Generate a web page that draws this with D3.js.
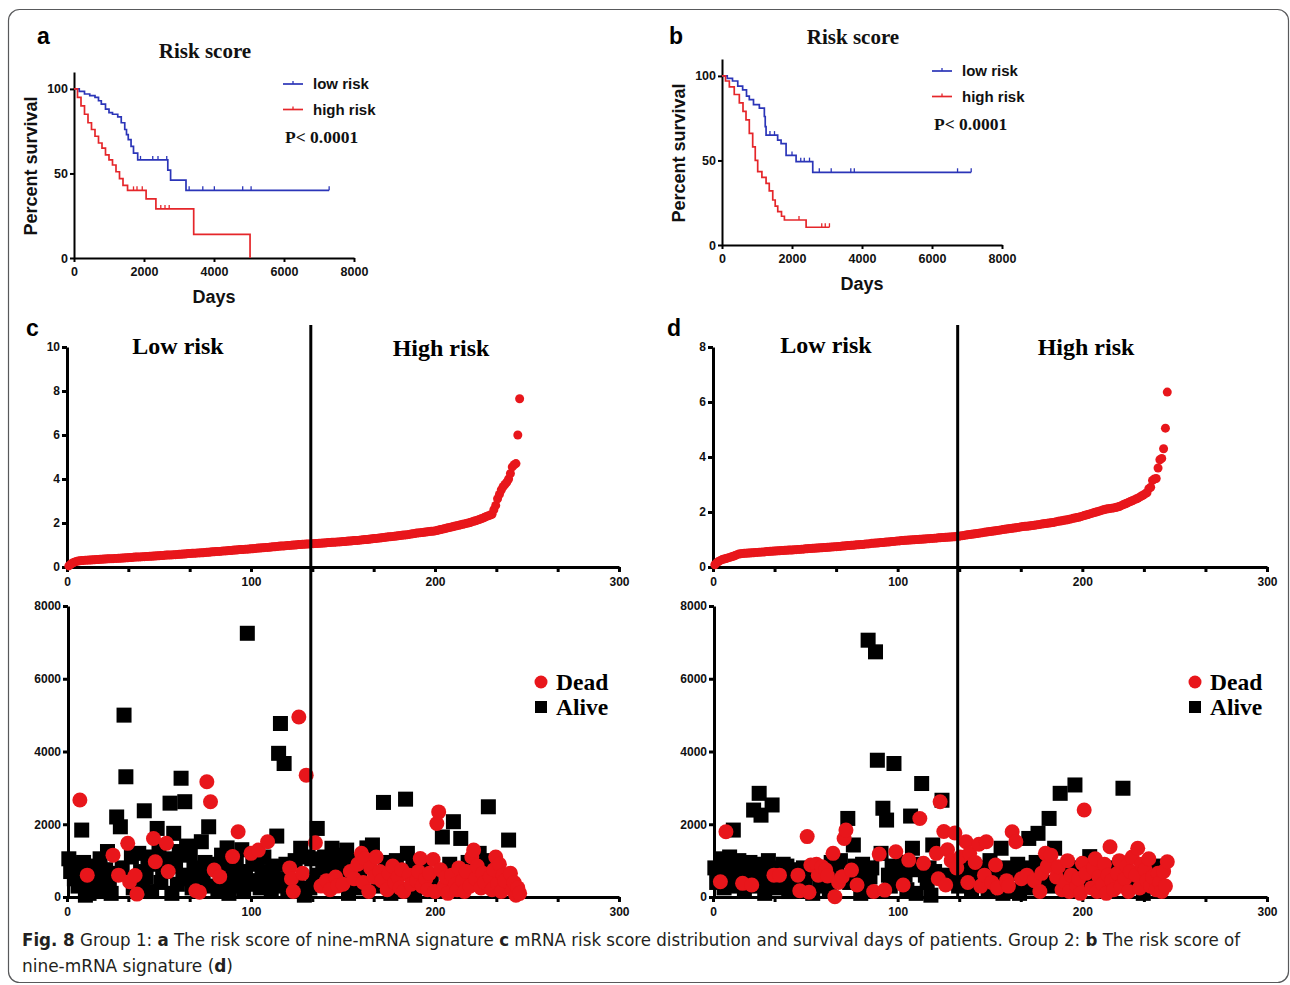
<!DOCTYPE html>
<html>
<head>
<meta charset="utf-8">
<script src="https://cdn.jsdelivr.net/npm/d3@7"></script>
<style>
  body { margin: 0; background: #fff; }
</style>
</head>
<body>
<svg id="fig" width="1290" height="985"></svg>
<script>
// ---------- Kaplan-Meier data (days, percent survival) ----------
const kmDayTicks = [0, 2000, 4000, 6000, 8000];
const kmPctTicks = [0, 50, 100];

const g1LowTimes = [0, 150, 300, 450, 600, 700, 780, 900, 1000, 1100, 1250, 1350, 1450, 1500, 1550, 1630, 1700, 1820, 2680, 2760, 3200];
const g1LowSurv  = [100, 98.5, 97, 96, 95, 93, 91, 88, 86, 85, 83.5, 80, 76, 73, 70, 66, 62, 58, 52, 46, 40];
const g1LowEnd = 7290;
const g1LowCensor = [1900, 2250, 2400, 2650, 3290, 3680, 4010, 4820, 5060, 7290];

const g1HighTimes = [0, 100, 200, 300, 400, 500, 600, 700, 800, 900, 1000, 1100, 1200, 1300, 1400, 1530, 2060, 2340, 3420, 5030];
const g1HighSurv  = [100, 95, 90, 85, 80, 76, 72, 68, 65, 61, 58, 55, 51, 47, 43, 40, 35, 29, 14, 0];
const g1HighEnd = 5030;
const g1HighCensor = [1700, 1800, 1950, 2480, 2600, 2720];

const g2LowTimes = [0, 150, 300, 450, 590, 700, 780, 900, 1067, 1210, 1235, 1259, 1590, 1688, 1831, 2117, 2593];
const g2LowSurv  = [100, 98.5, 97, 94, 91.7, 88, 86, 83, 81, 76, 70, 65, 62, 60, 53, 49.3, 43];
const g2LowEnd = 7120;
const g2LowCensor = [1370, 1500, 2000, 2250, 2350, 2500, 2780, 3120, 3680, 3780, 6730, 7120];

const g2HighTimes = [0, 100, 210, 350, 495, 600, 686, 780, 877, 950, 1020, 1140, 1259, 1350, 1450, 1520, 1593, 1700, 1783, 2403];
const g2HighSurv  = [100, 97, 93.5, 89, 84, 79, 74, 66, 58, 50, 43.4, 40, 36.5, 32, 26.6, 23, 19.7, 17, 14.8, 10.5];
const g2HighEnd = 3070;
const g2HighCensor = [2200, 2850, 2950, 3070];

// ---------- risk score distribution (patients ordered by score) ----------
const cutoffIndex = 132.5;

const riskScoreG1 = [
  0.05,0.12,0.18,0.22,0.25,0.27,0.28,0.29,0.30,0.31,
  0.31,0.32,0.32,0.33,0.33,0.34,0.34,0.35,0.35,0.36,
  0.36,0.37,0.37,0.38,0.38,0.39,0.39,0.40,0.40,0.41,
  0.41,0.42,0.42,0.43,0.43,0.44,0.45,0.45,0.46,0.46,
  0.47,0.47,0.48,0.48,0.49,0.49,0.50,0.50,0.51,0.51,
  0.52,0.52,0.53,0.54,0.54,0.55,0.55,0.56,0.56,0.57,
  0.58,0.58,0.59,0.59,0.60,0.61,0.61,0.62,0.62,0.63,
  0.64,0.64,0.65,0.65,0.66,0.67,0.67,0.68,0.69,0.69,
  0.70,0.71,0.71,0.72,0.73,0.73,0.74,0.75,0.75,0.76,
  0.77,0.77,0.78,0.79,0.79,0.80,0.81,0.81,0.82,0.83,
  0.83,0.84,0.85,0.86,0.86,0.87,0.88,0.89,0.89,0.90,
  0.91,0.92,0.92,0.93,0.94,0.95,0.95,0.96,0.97,0.98,
  0.98,0.99,1.00,1.00,1.01,1.02,1.02,1.03,1.03,1.04,1.04,1.05,
  1.06,1.06,1.07,1.07,1.08,1.08,1.09,1.09,
  1.10,1.11,1.11,1.12,1.12,1.13,1.14,1.14,1.15,1.16,
  1.16,1.17,1.18,1.18,1.19,1.20,1.21,1.21,1.22,1.23,
  1.24,1.25,1.25,1.26,1.27,1.28,1.29,1.30,1.31,1.32,
  1.33,1.34,1.35,1.36,1.37,1.38,1.39,1.40,1.41,1.42,
  1.43,1.44,1.45,1.46,1.47,1.48,1.50,1.51,1.52,1.54,
  1.55,1.56,1.57,1.58,1.59,1.60,1.61,1.62,1.63,1.64,
  1.66,1.68,1.70,1.72,1.74,1.76,1.78,1.80,1.82,1.84,
  1.86,1.88,1.90,1.92,1.94,1.96,1.98,2.00,2.02,2.05,
  2.08,2.10,2.13,2.16,2.19,2.22,2.26,2.30,2.33,2.36,
  2.40,2.60,2.80,3.10,3.30,3.50,3.65,3.75,3.85,4.00,
  4.25,4.55,4.65,4.70,6.00,7.65
];

const riskScoreG2 = [
  0.08,0.15,0.20,0.24,0.27,0.29,0.31,0.33,0.35,0.37,
  0.39,0.42,0.45,0.47,0.48,0.49,0.50,0.50,0.51,0.51,
  0.52,0.52,0.53,0.53,0.54,0.54,0.55,0.55,0.56,0.56,
  0.57,0.57,0.58,0.58,0.59,0.59,0.60,0.60,0.61,0.61,
  0.62,0.62,0.62,0.63,0.63,0.64,0.64,0.65,0.65,0.66,
  0.66,0.67,0.67,0.68,0.68,0.69,0.69,0.70,0.70,0.71,
  0.71,0.72,0.72,0.73,0.73,0.74,0.74,0.75,0.75,0.76,
  0.76,0.77,0.78,0.78,0.79,0.79,0.80,0.81,0.81,0.82,
  0.82,0.83,0.84,0.84,0.85,0.86,0.86,0.87,0.87,0.88,
  0.89,0.89,0.90,0.91,0.91,0.92,0.93,0.93,0.94,0.95,
  0.95,0.96,0.96,0.97,0.97,0.98,0.98,0.99,0.99,1.00,
  1.00,1.01,1.01,1.02,1.02,1.03,1.03,1.04,1.04,1.05,
  1.05,1.06,1.06,1.07,1.07,1.08,1.08,1.09,1.09,1.10,1.10,1.11,
  1.12,1.13,1.14,1.15,1.16,1.17,1.18,1.19,
  1.20,1.21,1.22,1.23,1.24,1.25,1.26,1.27,1.28,1.29,
  1.30,1.31,1.32,1.33,1.34,1.35,1.36,1.37,1.38,1.39,
  1.40,1.41,1.42,1.43,1.44,1.45,1.46,1.47,1.48,1.48,
  1.49,1.50,1.51,1.52,1.53,1.54,1.55,1.56,1.57,1.58,
  1.59,1.60,1.61,1.62,1.63,1.65,1.66,1.67,1.68,1.70,
  1.71,1.72,1.74,1.75,1.77,1.78,1.80,1.81,1.83,1.85,
  1.87,1.89,1.91,1.93,1.95,1.97,1.99,2.01,2.03,2.05,
  2.07,2.09,2.11,2.12,2.13,2.14,2.15,2.16,2.18,2.20,
  2.23,2.26,2.29,2.32,2.35,2.38,2.41,2.44,2.47,2.50,
  2.54,2.58,2.62,2.66,2.70,2.85,2.90,3.15,3.20,3.22,
  3.60,3.90,3.95,4.30,5.05,6.36
];

// ---------- survival days and vital status per patient (1 = dead, 0 = alive) ----------
const survivalDaysG1 = [
  1050,700,900,500,800,300,2665,1840,950,50,
  600,100,400,850,650,200,300,1050,550,150,
  750,1250,450,100,1150,650,2200,600,1930,800,
  5000,3305,1475,420,1100,250,590,80,1200,700,
  300,2370,550,1100,900,150,1610,970,1885,1300,
  400,700,1050,1475,700,2580,100,1750,850,350,
  1250,3265,500,2620,1400,600,1150,250,800,170,
  400,130,1520,650,950,3170,1930,2620,300,740,
  900,200,560,1150,450,800,1350,100,600,1110,
  300,1000,1795,500,1300,150,700,7250,350,1200,
  900,450,1050,1290,250,700,1100,400,1520,600,
  200,850,300,1675,3950,4770,500,3670,900,150,
  800,500,150,1000,350,4950,1340,650,50,3350,1100,250,
  1050,400,1490,1885,600,300,900,1100,450,700,
  200,1340,950,550,300,1150,800,350,600,1290,
  100,700,1000,500,250,900,650,1200,400,1050,
  1350,150,800,1430,550,1100,300,700,450,2600,
  950,200,650,100,850,400,1000,550,250,750,
  150,2690,1200,600,350,900,50,450,700,1060,
  300,850,500,200,650,400,1030,150,2020,2340,
  750,1650,300,550,100,900,600,2070,350,200,
  800,1610,450,150,700,950,300,1100,1290,500,
  850,1200,250,650,400,1000,2480,550,200,750,
  1100,350,900,150,600,450,300,1565,650,200,
  400,50,250,100
];
const deadG1 = [
  0,0,0,0,0,0,1,0,0,0,
  1,0,0,0,0,0,0,0,0,0,
  0,0,0,0,1,0,0,1,0,0,
  0,0,1,1,0,0,1,1,0,0,
  0,0,0,0,0,0,1,1,0,0,
  0,0,0,1,1,0,0,0,0,0,
  0,0,0,0,0,0,0,0,0,1,
  0,1,0,0,0,1,0,1,0,1,
  0,0,1,0,0,0,0,0,0,1,
  0,0,1,0,0,0,0,0,0,1,
  0,0,0,1,0,0,0,0,1,0,
  0,0,0,0,0,0,0,0,0,0,
  1,1,1,0,0,1,0,1,0,1,0,0,
  0,0,1,0,0,1,0,0,1,0,
  1,0,0,1,1,0,0,1,0,0,
  0,1,0,1,0,1,0,1,1,1,
  0,1,1,0,1,1,0,1,1,0,
  0,1,1,0,1,1,0,1,1,1,
  1,0,0,1,1,0,0,1,1,1,
  1,0,1,1,1,0,1,1,1,1,
  1,0,1,1,1,0,1,0,1,1,
  1,0,1,1,1,0,1,1,1,1,
  1,0,1,1,1,0,0,1,1,1,
  1,1,1,1,1,1,0,0,1,1,
  1,1,1,1
];

const survivalDaysG2 = [
  800,400,600,420,1050,250,1795,700,1100,300,
  1840,900,500,1000,650,375,200,800,450,950,
  330,2390,700,300,2850,2250,900,100,600,1000,
  450,2530,600,800,250,600,700,900,350,850,
  150,600,750,300,500,600,170,200,800,400,
  1660,130,880,100,650,900,600,300,830,500,
  750,580,200,950,1200,10,700,400,1000,560,
  1610,1840,2160,400,740,1430,850,330,600,100,
  900,700,400,7060,550,800,150,6740,3760,1180,
  1200,2440,190,2115,600,300,850,3670,1245,700,
  500,950,330,600,200,1015,2225,1340,750,100,
  900,2160,3120,925,600,400,800,50,1430,700,
  1200,500,2620,2660,1800,330,1300,600,1000,400,1760,800,
  300,1100,600,900,1520,400,1200,200,700,950,
  500,1450,300,800,600,1520,150,1000,400,700,
  880,250,550,1340,100,800,450,300,650,1795,
  200,1520,900,100,500,700,350,600,1610,800,
  250,450,950,1750,150,650,400,1200,850,2160,
  1150,300,1340,550,830,2850,200,700,400,1000,
  150,600,800,3080,300,500,100,925,2390,650,
  400,1110,250,800,1050,150,550,750,350,900,
  100,600,1380,450,200,800,650,1000,300,2990,
  500,850,150,700,1100,400,600,1340,250,900,
  100,750,450,1050,300,550,850,200,650,400,
  150,700,300,970
];
const deadG2 = [
  0,0,0,1,0,0,1,0,0,0,
  0,0,0,0,0,1,0,0,0,0,
  1,0,0,0,0,0,0,0,0,0,
  0,0,1,0,0,1,0,0,0,0,
  0,0,0,0,0,1,1,0,0,0,
  1,1,1,0,0,1,1,0,1,0,
  1,1,0,0,1,1,0,1,0,1,
  1,1,0,0,1,0,0,1,0,0,
  0,0,0,0,0,0,1,0,0,1,
  0,0,1,0,0,0,0,0,1,0,
  0,0,1,0,0,1,0,0,0,0,
  0,1,0,1,0,0,0,0,0,0,
  1,1,1,0,1,1,1,0,1,0,1,1,
  0,1,0,0,1,1,1,0,0,1,
  0,1,1,0,1,1,0,0,1,0,
  1,1,0,0,0,0,1,1,0,1,
  0,1,0,0,1,0,0,1,0,0,
  0,1,0,0,1,1,0,1,1,0,
  1,0,0,1,1,0,1,0,1,1,
  1,1,0,0,1,1,1,1,1,1,
  0,0,1,1,1,1,1,0,1,1,
  1,1,1,1,1,0,1,1,1,0,
  1,1,1,1,1,0,1,1,1,1,
  0,1,1,1,1,1,0,1,1,1,
  1,1,1,1
];

const riskTicksG1 = [0, 2, 4, 6, 8, 10];
const riskTicksG2 = [0, 2, 4, 6, 8];
const dayTicks = [0, 2000, 4000, 6000, 8000];

// ---------- drawing ----------
const SANS = 'Liberation Sans, Arial, sans-serif';
const SERIF = 'Liberation Serif, Times New Roman, serif';
const RED = '#e8161b';
const BLUE = '#2b35b8';
const KMRED = '#e5262a';
const intFmt = d3.format('d');

const svg = d3.select('#fig');

svg.append('rect')
  .attr('x', 8.5).attr('y', 9.5).attr('width', 1280).attr('height', 973)
  .attr('rx', 11).attr('fill', 'none').attr('stroke', '#58595b').attr('stroke-width', 1.2);

function styleAxis(g, w, fs) {
  g.attr('font-family', SANS);
  g.select('.domain').attr('stroke', '#000').attr('stroke-width', w);
  g.selectAll('.tick line').attr('stroke', '#000').attr('stroke-width', w);
  g.selectAll('.tick text')
    .attr('fill', '#111').attr('font-size', fs).attr('font-weight', 'bold')
    .attr('font-family', SANS);
}

function text(x, y, str, opts) {
  const t = svg.append('text').attr('x', x).attr('y', y).text(str)
    .attr('font-family', opts.family || SANS)
    .attr('font-size', opts.size)
    .attr('font-weight', opts.weight || 'normal')
    .attr('fill', opts.fill || '#111')
    .attr('text-anchor', opts.anchor || 'start');
  if (opts.rotate) t.attr('transform', `rotate(${opts.rotate},${x},${y})`);
  return t;
}

function survivalAt(times, surv, t) {
  let s = surv[0];
  for (let i = 0; i < times.length; i++) if (times[i] <= t) s = surv[i];
  return s;
}

function kmPanel(p) {
  const x = d3.scaleLinear().domain([0, 8000]).range([p.x0, p.x1]);
  const y = d3.scaleLinear().domain([0, 110]).range([p.y0, p.yTop]);
  const g = svg.append('g');

  g.append('g').attr('transform', `translate(0,${p.y0})`)
    .call(d3.axisBottom(x).tickValues(kmDayTicks).tickSize(4).tickSizeOuter(0)
      .tickPadding(5).tickFormat(intFmt))
    .call(styleAxis, 2, 12.5);
  g.append('g').attr('transform', `translate(${p.x0},0)`)
    .call(d3.axisLeft(y).tickValues(kmPctTicks).tickSize(4).tickSizeOuter(0).tickPadding(2).tickFormat(intFmt))
    .call(styleAxis, 2, 12.5);

  const line = d3.line().x(d => x(d[0])).y(d => y(d[1])).curve(d3.curveStepAfter);
  p.series.forEach(s => {
    const pts = s.times.map((t, i) => [t, s.surv[i]]);
    pts.push([s.end, s.surv[s.surv.length - 1]]);
    g.append('path').attr('d', line(pts)).attr('fill', 'none')
      .attr('stroke', s.color).attr('stroke-width', 1.7);
    g.selectAll(null).data(s.censor).enter().append('line')
      .attr('x1', d => x(d)).attr('x2', d => x(d))
      .attr('y1', d => y(survivalAt(s.times, s.surv, d)))
      .attr('y2', d => y(survivalAt(s.times, s.surv, d)) - 4)
      .attr('stroke', s.color).attr('stroke-width', 1.3);
  });

  // legend
  p.series.forEach((s, i) => {
    const ly = p.legY + i * 25.5;
    g.append('line').attr('x1', p.legX).attr('x2', p.legX + 20).attr('y1', ly).attr('y2', ly)
      .attr('stroke', s.color).attr('stroke-width', 1.7);
    g.append('line').attr('x1', p.legX + 10).attr('x2', p.legX + 10).attr('y1', ly).attr('y2', ly - 3)
      .attr('stroke', s.color).attr('stroke-width', 1.3);
    text(p.legX + 30, ly + 5, s.name, { size: 15, weight: 'bold' });
  });
  text(p.legX + 2, p.legY + 59, 'P< 0.0001', { size: 17.5, family: SERIF, weight: 'bold' });

  text((p.x0 + p.x1) / 2 - 9, p.titleY, 'Risk score', { size: 21, family: SERIF, weight: 'bold', anchor: 'middle' });
  text(p.x0 + 140, p.y0 + 45, 'Days', { size: 18, weight: 'bold', anchor: 'middle' });
  text(p.ylabX, (p.y0 + p.yTop) / 2 + 1, 'Percent survival', { size: 18, weight: 'bold', anchor: 'middle', rotate: -90 });
  text(p.letterX, p.letterY, p.letter, { size: 23, weight: 'bold', fill: '#000' });
}

kmPanel({
  x0: 74, x1: 354, y0: 258, yTop: 72, legX: 283, legY: 84, titleY: 58,
  ylabX: 37, letter: 'a', letterX: 37, letterY: 44,
  series: [
    { name: 'low risk', color: BLUE, times: g1LowTimes, surv: g1LowSurv, end: g1LowEnd, censor: g1LowCensor },
    { name: 'high risk', color: KMRED, times: g1HighTimes, surv: g1HighSurv, end: g1HighEnd, censor: g1HighCensor }
  ]
});
kmPanel({
  x0: 722, x1: 1002, y0: 245, yTop: 59, legX: 932, legY: 71, titleY: 44,
  ylabX: 685, letter: 'b', letterX: 669, letterY: 44,
  series: [
    { name: 'low risk', color: BLUE, times: g2LowTimes, surv: g2LowSurv, end: g2LowEnd, censor: g2LowCensor },
    { name: 'high risk', color: KMRED, times: g2HighTimes, surv: g2HighSurv, end: g2HighEnd, censor: g2HighCensor }
  ]
});

function riskPanel(p) {
  const x = d3.scaleLinear().domain([0, 300]).range([p.x0, p.x1]);
  const yR = d3.scaleLinear().domain([0, p.rMax]).range([567, 347]);
  const yS = d3.scaleLinear().domain([0, 8000]).range([897, 606]);
  const g = svg.append('g');
  const xTicks = d3.range(0, 301, 100 / 3).map(v => Math.round(v * 1000) / 1000);
  const xFmt = d => (Math.abs(d % 100) < 0.01 ? intFmt(d) : '');

  // upper: risk score per patient
  g.append('g').attr('transform', 'translate(0,567)')
    .call(d3.axisBottom(x).tickValues(xTicks).tickFormat(xFmt).tickSize(5).tickSizeOuter(0).tickPadding(5))
    .call(styleAxis, 3, 12);
  g.append('g').attr('transform', `translate(${p.x0},0)`)
    .call(d3.axisLeft(yR).tickValues(p.rTicks).tickSize(5).tickSizeOuter(0).tickPadding(2).tickFormat(intFmt))
    .call(styleAxis, 3, 12);
  g.append('g').selectAll('circle').data(p.risk).enter().append('circle')
    .attr('cx', (d, i) => x(i + 1)).attr('cy', d => yR(d)).attr('r', 4.5)
    .attr('fill', RED);

  // lower: survival days per patient
  g.append('g').attr('transform', 'translate(0,897)')
    .call(d3.axisBottom(x).tickValues(xTicks).tickFormat(xFmt).tickSize(5).tickSizeOuter(0).tickPadding(5))
    .call(styleAxis, 3, 12);
  g.append('g').attr('transform', `translate(${p.x0 + 1},0)`)
    .call(d3.axisLeft(yS).tickValues(dayTicks).tickSize(5).tickSizeOuter(0).tickPadding(2).tickFormat(intFmt))
    .call(styleAxis, 3, 12);

  const pts = p.days.map((d, i) => ({ i: i + 1, d, dead: p.dead[i] }));
  g.append('g').selectAll('rect').data(pts.filter(o => !o.dead)).enter().append('rect')
    .attr('x', o => x(o.i) - 7.5).attr('y', o => yS(o.d) - 7.5).attr('width', 15).attr('height', 15)
    .attr('fill', '#000');
  g.append('g').selectAll('circle').data(pts.filter(o => o.dead)).enter().append('circle')
    .attr('cx', o => x(o.i)).attr('cy', o => yS(o.d)).attr('r', 7.5)
    .attr('fill', RED);

  // risk group divider
  g.append('line').attr('x1', x(cutoffIndex)).attr('x2', x(cutoffIndex))
    .attr('y1', 325).attr('y2', 897).attr('stroke', '#000').attr('stroke-width', 3);

  text(p.lowX, p.groupY, 'Low risk', { size: 24, family: SERIF, weight: 'bold', anchor: 'middle', fill: '#000' });
  text(p.highX, p.groupY + 2, 'High risk', { size: 24, family: SERIF, weight: 'bold', anchor: 'middle', fill: '#000' });

  // legend
  g.append('circle').attr('cx', p.legX).attr('cy', 682).attr('r', 6.5).attr('fill', RED);
  g.append('rect').attr('x', p.legX - 6).attr('y', 701).attr('width', 12).attr('height', 12).attr('fill', '#000');
  text(p.legX + 15, 690, 'Dead', { size: 23.5, family: SERIF, weight: 'bold', fill: '#000' });
  text(p.legX + 15, 715, 'Alive', { size: 23.5, family: SERIF, weight: 'bold', fill: '#000' });

  text(p.letterX, 336, p.letter, { size: 23, weight: 'bold', fill: '#000' });
}

riskPanel({
  x0: 67, x1: 619, rMax: 10, rTicks: riskTicksG1, risk: riskScoreG1,
  days: survivalDaysG1, dead: deadG1, lowX: 178, highX: 441, groupY: 354,
  legX: 541, letter: 'c', letterX: 26
});
riskPanel({
  x0: 713, x1: 1267, rMax: 8, rTicks: riskTicksG2, risk: riskScoreG2,
  days: survivalDaysG2, dead: deadG2, lowX: 826, highX: 1086, groupY: 353,
  legX: 1195, letter: 'd', letterX: 667
});

// ---------- caption ----------
const capFont = 'Liberation Sans Narrow, DejaVu Sans Condensed, Liberation Sans, sans-serif';
const cap1 = svg.append('text').attr('x', 22).attr('y', 946)
  .attr('font-family', capFont).attr('font-size', 18).attr('fill', '#231f20')
  .attr('textLength', 1218).attr('lengthAdjust', 'spacingAndGlyphs');
[
  ['Fig. 8', 'bold'], ['  Group 1: ', 'normal'], ['a', 'bold'],
  [' The risk score of nine-mRNA signature ', 'normal'], ['c', 'bold'],
  [' mRNA risk score distribution and survival days of patients. Group 2: ', 'normal'],
  ['b', 'bold'], [' The risk score of', 'normal']
].forEach(([s, w]) => cap1.append('tspan').attr('font-weight', w).text(s));

const cap2 = svg.append('text').attr('x', 22).attr('y', 972)
  .attr('font-family', capFont).attr('font-size', 18).attr('fill', '#231f20')
  .attr('textLength', 211).attr('lengthAdjust', 'spacingAndGlyphs');
[['nine-mRNA signature (', 'normal'], ['d', 'bold'], [')', 'normal']]
  .forEach(([s, w]) => cap2.append('tspan').attr('font-weight', w).text(s));
</script>
</body>
</html>
